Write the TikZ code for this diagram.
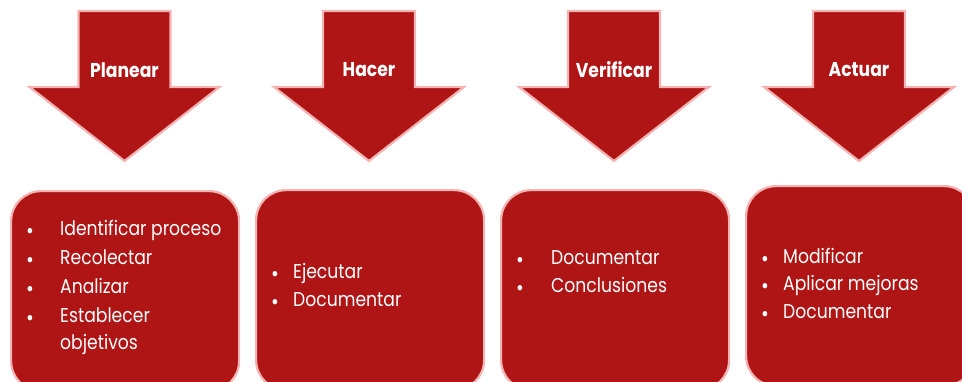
\documentclass[tikz,border=0pt]{standalone}
\usepackage{fontspec}
\setmainfont{Poppins}[FakeStretch=0.86]
\definecolor{pdcafill}{HTML}{AF1515}
\definecolor{pdcaedge}{HTML}{F4B4B4}
\tikzset{
  arrowshape/.style={fill=pdcafill, draw=pdcaedge, line width=2.2pt, line join=miter},
  arrowlabel/.style={text=white, font=\bfseries\fontsize{20}{24}\selectfont, inner sep=0pt},
  stepbox/.style={fill=pdcafill, draw=pdcaedge, line width=2.2pt, rounded corners=30pt,
    anchor=north west, minimum width=228pt, minimum height=200pt, inner sep=0pt},
  bulletdot/.style={text=white, font=\fontsize{22}{24}\selectfont, inner sep=0pt},
  itemtext/.style={text=white, font=\fontsize{20}{23}\selectfont, inner sep=0pt, anchor=mid west},
}
% one list line: name, bullet x, text x, y, text
\newcommand\pdcaitem[5]{%
  \node[bulletdot] (#1b) at (#2,#4) {•};
  \node[itemtext] (#1) at (#3,#4) {#5};}
\begin{document}
\begin{tikzpicture}[x=1pt,y=-1pt]
\useasboundingbox (0,0) rectangle (962,381);
\clip (0,0) rectangle (962,381);

% the four down arrows with their phase names
\foreach \cx/\nm/\lbl in {124.5/planear/Planear, 369/hacer/Hacer, 614/verificar/Verificar, 859/actuar/Actuar}{
  \draw[arrowshape] (\cx-46,11) -- (\cx+46,11) -- (\cx+46,87) -- (\cx+95,87)
    -- (\cx,161) -- (\cx-95,87) -- (\cx-46,87) -- cycle;
  \node[arrowlabel] (\nm) at (\cx,70) {\lbl};
}

% the four boxes below the arrows
\node[stepbox] (box1) at (10,190) {};
\node[stepbox] (box2) at (255,189) {};
\node[stepbox] (box3) at (500,189) {};
\node[stepbox] (box4) at (745,185) {};

% Planear
\pdcaitem{p1}{30}{60}{233}{Identificar proceso}
\pdcaitem{p2}{30}{60}{262}{Recolectar}
\pdcaitem{p3}{30}{60}{291}{Analizar}
\pdcaitem{p4}{30}{60}{320}{Establecer}
\node[itemtext] (p5) at (60,347) {objetivos};

% Hacer
\pdcaitem{h1}{275}{293}{276}{Ejecutar}
\pdcaitem{h2}{275}{293}{304}{Documentar}

% Verificar
\pdcaitem{v1}{520}{551}{262}{Documentar}
\pdcaitem{v2}{520}{551}{290}{Conclusiones}

% Actuar
\pdcaitem{a1}{765}{783}{261}{Modificar}
\pdcaitem{a2}{765}{783}{288}{Aplicar mejoras}
\pdcaitem{a3}{765}{783}{316}{Documentar}
\end{tikzpicture}
\end{document}
